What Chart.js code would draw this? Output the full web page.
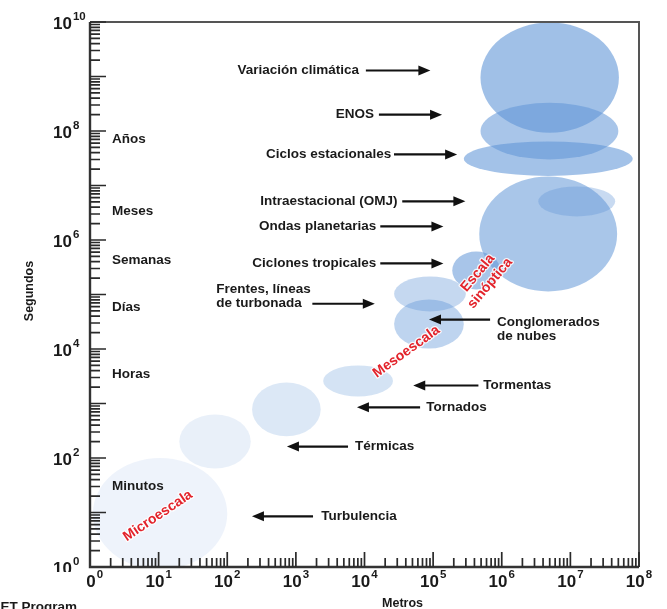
<!DOCTYPE html>
<html>
<head>
<meta charset="utf-8">
<script src="https://cdn.jsdelivr.net/npm/chart.js@4.4.0/dist/chart.umd.min.js"></script>
<style>
  html, body { margin: 0; padding: 0; background: #fff; }
</style>
</head>
<body>
<canvas id="scales-chart" width="667" height="609"></canvas>
<script>
// Escalas espaciales y temporales de los fenómenos atmosféricos
const phenomena = ['Turbulencia', 'Térmicas', 'Tornados', 'Tormentas', 'Conglomerados de nubes',
  'Frentes, líneas de turbonada', 'Ciclones tropicales', 'Ondas planetarias',
  'Intraestacional (OMJ)', 'Ciclos estacionales', 'ENOS', 'Variación climática'];
// extensión espacial (metros)
const lengthMin = [1.1, 20, 230, 2500, 27000, 27000, 190000, 470000, 3.4e6, 2.8e5, 4.9e5, 4.9e5];
const lengthMax = [100, 220, 2300, 26000, 2.8e5, 3e5, 9.5e5, 4.8e7, 4.5e7, 8.1e7, 5e7, 5.1e7];
// extensión temporal (segundos)
const timeMin = [0.9, 64, 250, 1350, 10200, 49000, 124000, 114000, 2.7e6, 1.5e7, 3e7, 9.3e7];
const timeMax = [100, 630, 2430, 5000, 81000, 214000, 616000, 1.47e7, 9.6e6, 6.4e7, 3.3e8, 9.8e9];

const xTickExponents = [0, 1, 2, 3, 4, 5, 6, 7, 8];
const yTickExponents = [0, 2, 4, 6, 8, 10];
const timeUnits = ['Años', 'Meses', 'Semanas', 'Días', 'Horas', 'Minutos'];

// estilos y posiciones de las anotaciones (en décadas log10)
const FONT = '"Liberation Sans", Arial, sans-serif';
const baseColor = '97, 150, 215';
const fillAlpha = [0.11, 0.14, 0.22, 0.27, 0.41, 0.37, 0.55, 0.54, 0.35, 0.58, 0.55, 0.6];
const unitAt = [7.84, 6.52, 5.62, 4.76, 3.53, 1.48];
const notes = [
  { lines: ['Variación climática'], at: [3.92, 9.11], align: 'right', arrow: [4.02, 4.96, 9.11] },
  { lines: ['ENOS'], at: [4.14, 8.30], align: 'right', arrow: [4.21, 5.13, 8.30] },
  { lines: ['Ciclos estacionales'], at: [4.39, 7.57], align: 'right', arrow: [4.43, 5.35, 7.57] },
  { lines: ['Intraestacional (OMJ)'], at: [4.48, 6.71], align: 'right', arrow: [4.55, 5.47, 6.71] },
  { lines: ['Ondas planetarias'], at: [4.17, 6.25], align: 'right', arrow: [4.23, 5.15, 6.25] },
  { lines: ['Ciclones tropicales'], at: [4.17, 5.57], align: 'right', arrow: [4.23, 5.15, 5.57] },
  { lines: ['Frentes, líneas', 'de turbonada'], at: [1.84, 5.09], align: 'left', arrow: [3.24, 4.15, 4.83] },
  { lines: ['Conglomerados', 'de nubes'], at: [5.93, 4.49], align: 'left', arrow: [5.83, 4.94, 4.54] },
  { lines: ['Tormentas'], at: [5.73, 3.33], align: 'left', arrow: [5.66, 4.71, 3.33] },
  { lines: ['Tornados'], at: [4.90, 2.93], align: 'left', arrow: [4.81, 3.89, 2.93] },
  { lines: ['Térmicas'], at: [3.86, 2.21], align: 'left', arrow: [3.76, 2.87, 2.21] },
  { lines: ['Turbulencia'], at: [3.37, 0.93], align: 'left', arrow: [3.25, 2.36, 0.93] }
];
const scaleNames = [
  { lines: ['Microescala'], at: [0.99, 0.94], angle: -34 },
  { lines: ['Mesoescala'], at: [4.61, 3.95], angle: -36 },
  { lines: ['Escala', 'sinóptica'], at: [5.74, 5.30], angle: -50 }
];

function toPx(chart, lx, ly) {
  return [chart.scales.x.getPixelForValue(10 ** lx), chart.scales.y.getPixelForValue(10 ** ly)];
}

function drawArrow(ctx, x1, x2, y) {
  const dir = Math.sign(x2 - x1);
  ctx.beginPath();
  ctx.moveTo(x1, y);
  ctx.lineTo(x2 - dir * 9, y);
  ctx.lineWidth = 2.2;
  ctx.strokeStyle = '#111';
  ctx.stroke();
  ctx.beginPath();
  ctx.moveTo(x2, y);
  ctx.lineTo(x2 - dir * 12, y - 5);
  ctx.lineTo(x2 - dir * 12, y + 5);
  ctx.closePath();
  ctx.fillStyle = '#111';
  ctx.fill();
}

function drawPower(ctx, x, y, exp, align) {
  ctx.font = 'bold 17px ' + FONT;
  const wBase = ctx.measureText('10').width;
  ctx.font = 'bold 11.5px ' + FONT;
  const wExp = ctx.measureText(String(exp)).width;
  const left = align === 'center' ? x - (wBase + wExp + 1) / 2 : x;
  ctx.textAlign = 'left';
  ctx.textBaseline = 'middle';
  ctx.fillStyle = '#1a1a1a';
  ctx.font = 'bold 17px ' + FONT;
  ctx.fillText('10', left, y);
  ctx.font = 'bold 11.5px ' + FONT;
  ctx.fillText(String(exp), left + wBase + 1, y - 7);
}

const ellipsePlugin = {
  id: 'scaleEllipses',
  beforeDatasetsDraw(chart) {
    const { ctx, chartArea, scales } = chart;
    ctx.save();
    ctx.beginPath();
    ctx.rect(chartArea.left, chartArea.top, chartArea.width, chartArea.height);
    ctx.clip();
    phenomena.forEach((name, i) => {
      const x1 = scales.x.getPixelForValue(lengthMin[i]);
      const x2 = scales.x.getPixelForValue(lengthMax[i]);
      const y1 = scales.y.getPixelForValue(timeMin[i]);
      const y2 = scales.y.getPixelForValue(timeMax[i]);
      ctx.beginPath();
      ctx.ellipse((x1 + x2) / 2, (y1 + y2) / 2, Math.abs(x2 - x1) / 2, Math.abs(y2 - y1) / 2, 0, 0, Math.PI * 2);
      ctx.fillStyle = `rgba(${baseColor}, ${fillAlpha[i]})`;
      ctx.fill();
    });
    ctx.restore();
  }
};

const axesPlugin = {
  id: 'logAxes',
  afterDraw(chart) {
    const { ctx, chartArea } = chart;
    const { left, right, top, bottom } = chartArea;
    const xs = chart.scales.x;
    const ys = chart.scales.y;
    ctx.save();

    // marco
    ctx.strokeStyle = '#555';
    ctx.lineWidth = 2;
    ctx.beginPath();
    ctx.moveTo(left, top);
    ctx.lineTo(right, top);
    ctx.lineTo(right, bottom);
    ctx.stroke();
    ctx.strokeStyle = '#333';
    ctx.lineWidth = 2.4;
    ctx.beginPath();
    ctx.moveTo(left, top);
    ctx.lineTo(left, bottom);
    ctx.lineTo(right, bottom);
    ctx.stroke();

    // marcas menores y mayores hacia dentro
    ctx.strokeStyle = '#2a2a2a';
    ctx.lineWidth = 1.7;
    ctx.beginPath();
    for (let e = 0; e < 8; e++) {
      for (let m = 2; m <= 10; m++) {
        const px = xs.getPixelForValue(m * 10 ** e);
        const len = m === 10 ? 15 : 9;
        ctx.moveTo(px, bottom);
        ctx.lineTo(px, bottom - len);
      }
    }
    for (let e = 0; e < 10; e++) {
      for (let m = 2; m <= 10; m++) {
        const py = ys.getPixelForValue(m * 10 ** e);
        const len = m === 10 ? 16 : 10;
        ctx.moveTo(left, py);
        ctx.lineTo(left + len, py);
      }
    }
    ctx.stroke();

    // etiquetas de los ejes
    ctx.save();
    ctx.beginPath();
    ctx.rect(left - 3, bottom + 2, chart.width, chart.height);
    ctx.clip();
    xTickExponents.forEach(e => drawPower(ctx, xs.getPixelForValue(10 ** e), bottom + 15, e, 'center'));
    ctx.restore();
    ctx.save();
    ctx.beginPath();
    ctx.rect(0, 0, left, bottom + 5);
    ctx.clip();
    yTickExponents.forEach(e => drawPower(ctx, left - 37, ys.getPixelForValue(10 ** e) + 2, e, 'left'));
    ctx.restore();

    ctx.fillStyle = '#1a1a1a';
    ctx.font = 'bold 12.5px ' + FONT;
    ctx.textAlign = 'center';
    ctx.textBaseline = 'middle';
    ctx.fillText('Metros', (left + right) / 2 + 38, bottom + 37);
    ctx.save();
    ctx.translate(30, 291);
    ctx.rotate(-Math.PI / 2);
    ctx.fillText('Segundos', 0, 0);
    ctx.restore();
    ctx.textAlign = 'right';
    ctx.textBaseline = 'top';
    ctx.font = 'bold 13.5px ' + FONT;
    ctx.fillText('COMET Program', 77, 601);

    // unidades de tiempo
    ctx.font = 'bold 13.5px ' + FONT;
    ctx.textAlign = 'left';
    ctx.textBaseline = 'middle';
    timeUnits.forEach((u, i) => {
      const [px, py] = toPx(chart, 0.32, unitAt[i]);
      ctx.fillText(u, px, py);
    });

    // fenómenos con flechas
    notes.forEach(n => {
      const [px, py] = toPx(chart, n.at[0], n.at[1]);
      ctx.fillStyle = '#1a1a1a';
      ctx.font = 'bold 13.5px ' + FONT;
      ctx.textAlign = n.align;
      n.lines.forEach((t, k) => ctx.fillText(t, px, py + k * 14));
      const [ax1, ay] = toPx(chart, n.arrow[0], n.arrow[2]);
      const [ax2] = toPx(chart, n.arrow[1], n.arrow[2]);
      drawArrow(ctx, ax1, ax2, ay);
    });

    // nombres de escala en rojo
    scaleNames.forEach(s => {
      const [px, py] = toPx(chart, s.at[0], s.at[1]);
      ctx.save();
      ctx.translate(px, py);
      ctx.rotate(s.angle * Math.PI / 180);
      ctx.font = 'bold 14px ' + FONT;
      ctx.textAlign = 'center';
      ctx.textBaseline = 'middle';
      ctx.lineJoin = 'round';
      ctx.strokeStyle = 'rgba(255,255,255,0.85)';
      ctx.lineWidth = 2.5;
      ctx.fillStyle = '#e3232b';
      const offset = (s.lines.length - 1) * 8;
      s.lines.forEach((t, k) => {
        ctx.strokeText(t, 0, k * 16 - offset);
        ctx.fillText(t, 0, k * 16 - offset);
      });
      ctx.restore();
    });

    ctx.restore();
  }
};

const ctx = document.getElementById('scales-chart').getContext('2d');
new Chart(ctx, {
  type: 'scatter',
  data: {
    datasets: [{
      label: 'Fenómenos',
      data: phenomena.map((p, i) => ({
        x: Math.sqrt(lengthMin[i] * lengthMax[i]),
        y: Math.sqrt(timeMin[i] * timeMax[i])
      })),
      pointRadius: 0,
      pointHoverRadius: 0
    }]
  },
  options: {
    responsive: false,
    animation: false,
    layout: { padding: { left: 90, right: 28, top: 22, bottom: 42 } },
    plugins: { legend: { display: false }, tooltip: { enabled: false } },
    scales: {
      x: { type: 'logarithmic', min: 1, max: 1e8, display: false },
      y: { type: 'logarithmic', min: 1, max: 1e10, display: false }
    }
  },
  plugins: [ellipsePlugin, axesPlugin]
});
</script>
</body>
</html>
